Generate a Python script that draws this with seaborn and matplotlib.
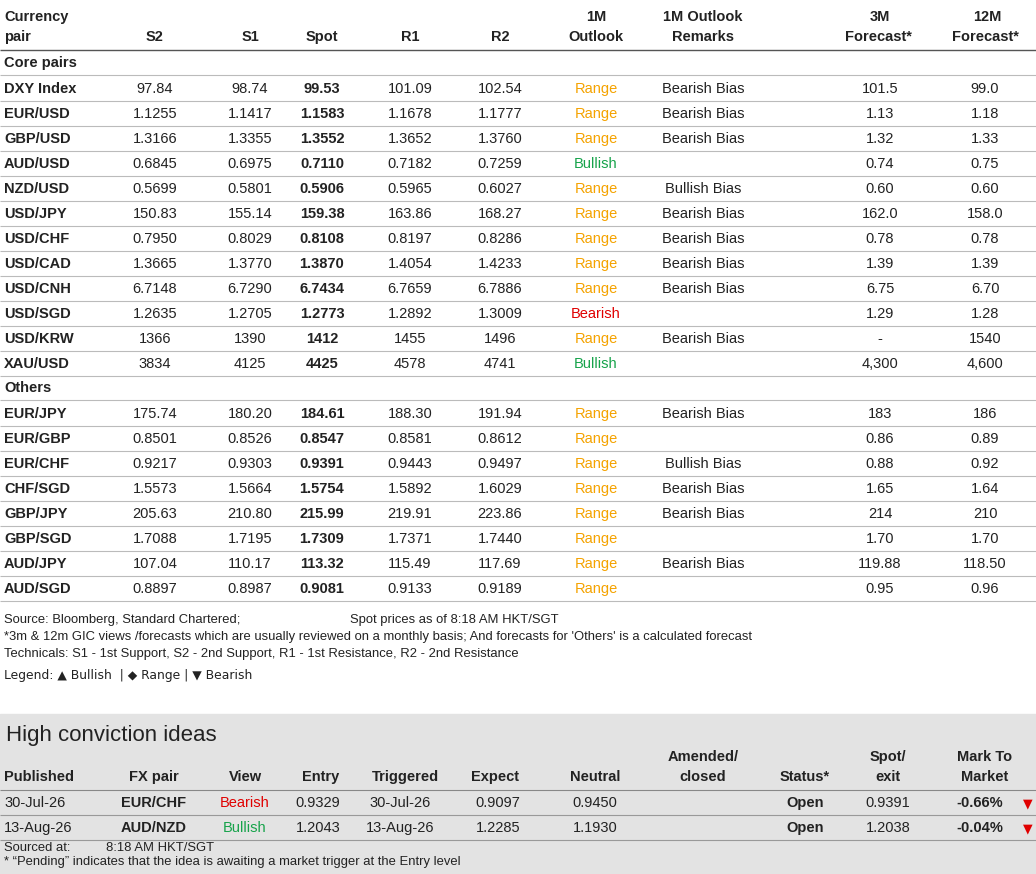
import matplotlib
matplotlib.use("Agg")
import matplotlib.pyplot as plt
import seaborn as sns

sns.set_theme(style="white")
plt.rcParams['font.family'] = ['Liberation Sans', 'DejaVu Sans']

## table data
core_pairs = ["DXY Index", "EUR/USD", "GBP/USD", "AUD/USD", "NZD/USD", "USD/JPY", "USD/CHF",
              "USD/CAD", "USD/CNH", "USD/SGD", "USD/KRW", "XAU/USD"]
core_s2 = ["97.84", "1.1255", "1.3166", "0.6845", "0.5699", "150.83", "0.7950", "1.3665", "6.7148", "1.2635", "1366", "3834"]
core_s1 = ["98.74", "1.1417", "1.3355", "0.6975", "0.5801", "155.14", "0.8029", "1.3770", "6.7290", "1.2705", "1390", "4125"]
core_spot = ["99.53", "1.1583", "1.3552", "0.7110", "0.5906", "159.38", "0.8108", "1.3870", "6.7434", "1.2773", "1412", "4425"]
core_r1 = ["101.09", "1.1678", "1.3652", "0.7182", "0.5965", "163.86", "0.8197", "1.4054", "6.7659", "1.2892", "1455", "4578"]
core_r2 = ["102.54", "1.1777", "1.3760", "0.7259", "0.6027", "168.27", "0.8286", "1.4233", "6.7886", "1.3009", "1496", "4741"]
core_outlook = ["Range", "Range", "Range", "Bullish", "Range", "Range", "Range", "Range", "Range", "Bearish", "Range", "Bullish"]
core_remarks = ["Bearish Bias", "Bearish Bias", "Bearish Bias", "", "Bullish Bias", "Bearish Bias", "Bearish Bias",
                "Bearish Bias", "Bearish Bias", "", "Bearish Bias", ""]
core_3m = ["101.5", "1.13", "1.32", "0.74", "0.60", "162.0", "0.78", "1.39", "6.75", "1.29", "-", "4,300"]
core_12m = ["99.0", "1.18", "1.33", "0.75", "0.60", "158.0", "0.78", "1.39", "6.70", "1.28", "1540", "4,600"]

other_pairs = ["EUR/JPY", "EUR/GBP", "EUR/CHF", "CHF/SGD", "GBP/JPY", "GBP/SGD", "AUD/JPY", "AUD/SGD"]
other_s2 = ["175.74", "0.8501", "0.9217", "1.5573", "205.63", "1.7088", "107.04", "0.8897"]
other_s1 = ["180.20", "0.8526", "0.9303", "1.5664", "210.80", "1.7195", "110.17", "0.8987"]
other_spot = ["184.61", "0.8547", "0.9391", "1.5754", "215.99", "1.7309", "113.32", "0.9081"]
other_r1 = ["188.30", "0.8581", "0.9443", "1.5892", "219.91", "1.7371", "115.49", "0.9133"]
other_r2 = ["191.94", "0.8612", "0.9497", "1.6029", "223.86", "1.7440", "117.69", "0.9189"]
other_outlook = ["Range"] * 8
other_remarks = ["Bearish Bias", "", "Bullish Bias", "Bearish Bias", "Bearish Bias", "", "Bearish Bias", ""]
other_3m = ["183", "0.86", "0.88", "1.65", "214", "1.70", "119.88", "0.95"]
other_12m = ["186", "0.89", "0.92", "1.64", "210", "1.70", "118.50", "0.96"]

## high conviction ideas
hc_published = ["30-Jul-26", "13-Aug-26"]
hc_pair = ["EUR/CHF", "AUD/NZD"]
hc_view = ["Bearish", "Bullish"]
hc_entry = ["0.9329", "1.2043"]
hc_triggered = ["30-Jul-26", "13-Aug-26"]
hc_expect = ["0.9097", "1.2285"]
hc_neutral = ["0.9450", "1.1930"]
hc_status = ["Open", "Open"]
hc_exit = ["0.9391", "1.2038"]
hc_mtm = ["-0.66%", "-0.04%"]

view_colors = {"Range": "#f5a300", "Bullish": "#16a34a", "Bearish": "#e00000"}
txt = "#222222"
fs = 10.5

fig = plt.figure(figsize=(10.36, 8.74), dpi=100)
ax = fig.add_axes([0, 0, 1, 1])
ax.set_xlim(0, 1036)
ax.set_ylim(874, 0)
ax.axis("off")

# header
ax.text(4, 17, "Currency", fontsize=fs, weight="bold", color=txt, va="center")
ax.text(4, 37, "pair", fontsize=fs, weight="bold", color=txt, va="center")
for x, lab in [(155, "S2"), (250, "S1"), (322, "Spot"), (410, "R1"), (500, "R2")]:
    ax.text(x, 37, lab, fontsize=fs, weight="bold", color=txt, ha="center", va="center")
ax.text(596, 17, "1M", fontsize=fs, weight="bold", color=txt, ha="center", va="center")
ax.text(596, 37, "Outlook", fontsize=fs, weight="bold", color=txt, ha="center", va="center")
ax.text(703, 17, "1M Outlook", fontsize=fs, weight="bold", color=txt, ha="center", va="center")
ax.text(703, 37, "Remarks", fontsize=fs, weight="bold", color=txt, ha="center", va="center")
ax.text(880, 17, "3M", fontsize=fs, weight="bold", color=txt, ha="center", va="center")
ax.text(878, 37, "Forecast*", fontsize=fs, weight="bold", color=txt, ha="center", va="center")
ax.text(987, 17, "12M", fontsize=fs, weight="bold", color=txt, ha="center", va="center")
ax.text(985, 37, "Forecast*", fontsize=fs, weight="bold", color=txt, ha="center", va="center")
ax.hlines(50, 0, 1036, color="#555555", lw=1)


def draw_block(y0, title, pairs, s2, s1, spot, r1, r2, outlook, remarks, f3, f12):
    ax.text(4, y0 + 1, title, fontsize=fs, weight="bold", color=txt, va="center")
    ax.hlines(y0 + 13, 0, 1036, color="#bbbbbb", lw=0.8)
    for i, p in enumerate(pairs):
        y = y0 + 27 + 25 * i
        ax.text(4, y, p, fontsize=fs, weight="bold", color=txt, va="center")
        ax.text(155, y, s2[i], fontsize=fs, color=txt, ha="center", va="center")
        ax.text(250, y, s1[i], fontsize=fs, color=txt, ha="center", va="center")
        ax.text(322, y, spot[i], fontsize=fs, weight="bold", color=txt, ha="center", va="center")
        ax.text(410, y, r1[i], fontsize=fs, color=txt, ha="center", va="center")
        ax.text(500, y, r2[i], fontsize=fs, color=txt, ha="center", va="center")
        ax.text(596, y, outlook[i], fontsize=fs, color=view_colors[outlook[i]], ha="center", va="center")
        ax.text(703, y, remarks[i], fontsize=fs, color=txt, ha="center", va="center")
        ax.text(880, y, f3[i], fontsize=fs, color=txt, ha="center", va="center")
        ax.text(985, y, f12[i], fontsize=fs, color=txt, ha="center", va="center")
        ax.hlines(y + 12, 0, 1036, color="#bbbbbb", lw=0.8)


draw_block(62, "Core pairs", core_pairs, core_s2, core_s1, core_spot, core_r1, core_r2,
           core_outlook, core_remarks, core_3m, core_12m)
draw_block(387, "Others", other_pairs, other_s2, other_s1, other_spot, other_r1, other_r2,
           other_outlook, other_remarks, other_3m, other_12m)

# footnotes
fn = 9.4
ax.text(4, 620, "Source: Bloomberg, Standard Chartered;", fontsize=fn, color=txt, va="center")
ax.text(350, 620, "Spot prices as of 8:18 AM HKT/SGT", fontsize=fn, color=txt, va="center")
ax.text(4, 637, "*3m & 12m GIC views /forecasts which are usually reviewed on a monthly basis; And forecasts for 'Others' is a calculated forecast",
        fontsize=fn, color=txt, va="center")
ax.text(4, 654, "Technicals: S1 - 1st Support, S2 - 2nd Support, R1 - 1st Resistance, R2 - 2nd Resistance",
        fontsize=fn, color=txt, va="center")
ax.text(4, 676, "Legend: \u25b2 Bullish  | \u25c6 Range | \u25bc Bearish", fontsize=8.9, color=txt, va="center",
        family=["DejaVu Sans"])

# high conviction box
ax.add_patch(plt.Rectangle((0, 714), 1036, 160, color="#e3e3e3", zorder=0))
ax.text(6, 736, "High conviction ideas", fontsize=16, color=txt, va="center")
hx = [(4, "Published", "left"), (154, "FX pair", "center"), (245, "View", "center"), (321, "Entry", "center"),
      (405, "Triggered", "center"), (495, "Expect", "center"), (595, "Neutral", "center"),
      (805, "Status*", "center"), (888, "exit", "center"), (985, "Market", "center")]
for x, lab, ha in hx:
    ax.text(x, 777, lab, fontsize=fs, weight="bold", color=txt, ha=ha, va="center")
ax.text(703, 757, "Amended/", fontsize=fs, weight="bold", color=txt, ha="center", va="center")
ax.text(703, 777, "closed", fontsize=fs, weight="bold", color=txt, ha="center", va="center")
ax.text(888, 757, "Spot/", fontsize=fs, weight="bold", color=txt, ha="center", va="center")
ax.text(985, 757, "Mark To", fontsize=fs, weight="bold", color=txt, ha="center", va="center")
ax.hlines(790, 0, 1036, color="#888888", lw=0.8)
for i in range(len(hc_pair)):
    y = 803 + 25 * i
    ax.text(4, y, hc_published[i], fontsize=fs, color=txt, va="center")
    ax.text(154, y, hc_pair[i], fontsize=fs, weight="bold", color=txt, ha="center", va="center")
    ax.text(245, y, hc_view[i], fontsize=fs, color=view_colors[hc_view[i]], ha="center", va="center")
    ax.text(318, y, hc_entry[i], fontsize=fs, color=txt, ha="center", va="center")
    ax.text(400, y, hc_triggered[i], fontsize=fs, color=txt, ha="center", va="center")
    ax.text(498, y, hc_expect[i], fontsize=fs, color=txt, ha="center", va="center")
    ax.text(595, y, hc_neutral[i], fontsize=fs, color=txt, ha="center", va="center")
    ax.text(805, y, hc_status[i], fontsize=fs, weight="bold", color=txt, ha="center", va="center")
    ax.text(888, y, hc_exit[i], fontsize=fs, color=txt, ha="center", va="center")
    ax.text(980, y, hc_mtm[i], fontsize=fs, weight="bold", color=txt, ha="center", va="center")
    ax.text(1028, y + 1, "\u25bc", fontsize=9, color="#e00000", ha="center", va="center", family=["DejaVu Sans"])
    ax.hlines(y + 12, 0, 1036, color="#999999", lw=0.8)
ax.text(4, 848, "Sourced at:", fontsize=fn, color=txt, va="center")
ax.text(106, 848, "8:18 AM HKT/SGT", fontsize=fn, color=txt, va="center")
ax.text(4, 862, "* \u201cPending\u201d indicates that the idea is awaiting a market trigger at the Entry level",
        fontsize=fn, color=txt, va="center")

fig.savefig("out.png", dpi=100)
